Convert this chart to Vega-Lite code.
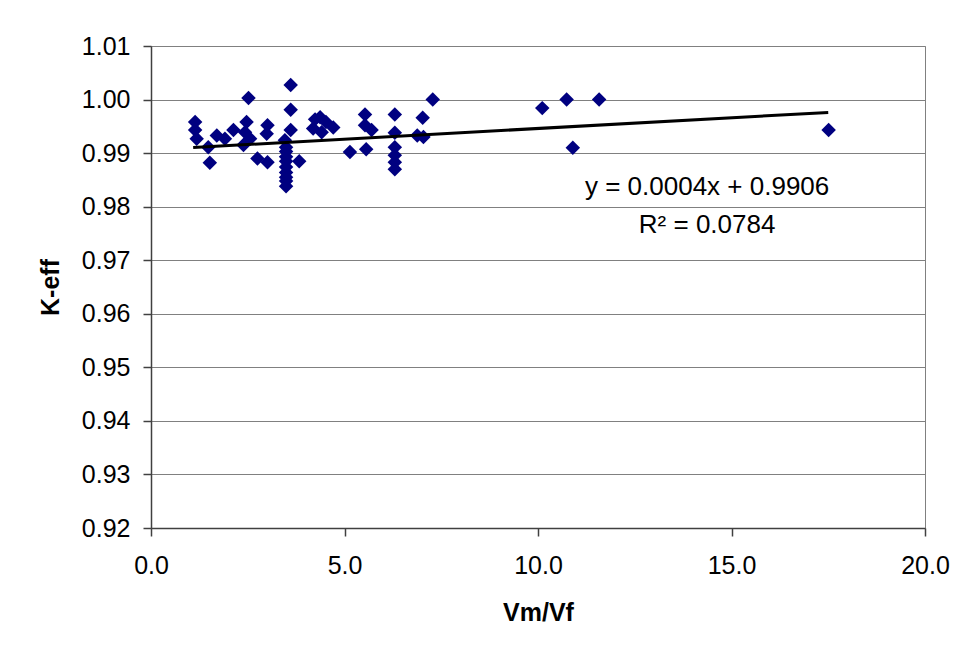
{
  "$schema": "https://vega.github.io/schema/vega-lite/v6.json",
  "width": 774,
  "height": 482,
  "autosize": {"type": "none"},
  "padding": {"left": 151, "top": 46, "right": 38, "bottom": 127},
  "background": "white",
  "config": {
    "font": "Liberation Sans",
    "view": {"stroke": "#808080", "strokeWidth": 1},
    "axis": {
      "labelFont": "Liberation Sans",
      "titleFont": "Liberation Sans",
      "labelFontSize": 25,
      "titleFontSize": 25,
      "titleFontWeight": "bold",
      "labelColor": "black",
      "titleColor": "black",
      "domainColor": "#404040",
      "domainWidth": 1.5,
      "tickColor": "#404040",
      "tickWidth": 1.5,
      "tickSize": 8,
      "labelFlush": false,
      "labelOverlap": false,
      "gridColor": "#808080",
      "gridWidth": 1,
      "gridOpacity": 1
    }
  },
  "datasets": {
    "pts": [
      {"x": 1.14, "y": 0.9958}, {"x": 1.14, "y": 0.9943}, {"x": 1.18, "y": 0.9927},
      {"x": 1.48, "y": 0.9911}, {"x": 1.52, "y": 0.9882}, {"x": 1.70, "y": 0.9933},
      {"x": 1.91, "y": 0.9927}, {"x": 2.13, "y": 0.9943}, {"x": 2.47, "y": 0.9958},
      {"x": 2.43, "y": 0.9939}, {"x": 2.39, "y": 0.9915}, {"x": 2.56, "y": 0.9927},
      {"x": 2.52, "y": 1.0003}, {"x": 2.75, "y": 0.9890}, {"x": 3.01, "y": 0.9883},
      {"x": 3.01, "y": 0.9952}, {"x": 2.99, "y": 0.9936}, {"x": 3.61, "y": 1.0027},
      {"x": 3.61, "y": 0.9981}, {"x": 3.61, "y": 0.9943}, {"x": 3.46, "y": 0.9924},
      {"x": 3.49, "y": 0.9911}, {"x": 3.49, "y": 0.9903}, {"x": 3.49, "y": 0.9893},
      {"x": 3.49, "y": 0.9885}, {"x": 3.49, "y": 0.9874}, {"x": 3.49, "y": 0.9864},
      {"x": 3.49, "y": 0.9855}, {"x": 3.49, "y": 0.9848}, {"x": 3.49, "y": 0.9838},
      {"x": 3.83, "y": 0.9885}, {"x": 4.24, "y": 0.9963}, {"x": 4.37, "y": 0.9967},
      {"x": 4.19, "y": 0.9946}, {"x": 4.41, "y": 0.9939}, {"x": 4.71, "y": 0.9948},
      {"x": 4.52, "y": 0.9958}, {"x": 5.14, "y": 0.9902}, {"x": 5.53, "y": 0.9972},
      {"x": 5.53, "y": 0.9952}, {"x": 5.70, "y": 0.9943}, {"x": 5.56, "y": 0.9907},
      {"x": 6.30, "y": 0.9972}, {"x": 6.30, "y": 0.9938}, {"x": 6.30, "y": 0.9911},
      {"x": 6.30, "y": 0.9896}, {"x": 6.30, "y": 0.9883}, {"x": 6.30, "y": 0.9870},
      {"x": 6.88, "y": 0.9933}, {"x": 7.04, "y": 0.9930}, {"x": 7.02, "y": 0.9966},
      {"x": 7.28, "y": 1.0000}, {"x": 10.11, "y": 0.9984}, {"x": 10.74, "y": 1.0000},
      {"x": 11.58, "y": 1.0000}, {"x": 10.90, "y": 0.9910}, {"x": 17.51, "y": 0.9943}
    ],
    "trend": [
      {"x": 1.09, "y": 0.99104},
      {"x": 17.5, "y": 0.9976}
    ],
    "labels": [
      {"x": 14.37, "y": 0.98212, "text": "y = 0.0004x + 0.9906"},
      {"x": 14.37, "y": 0.97509, "text": "R² = 0.0784"}
    ]
  },
  "layer": [
    {
      "data": {"name": "pts"},
      "mark": {"type": "point", "shape": "diamond", "filled": true, "color": "#000080", "opacity": 1, "size": 210},
      "encoding": {
        "x": {
          "field": "x", "type": "quantitative",
          "scale": {"domain": [0, 20], "nice": false, "zero": false},
          "axis": {
            "title": "Vm/Vf",
            "values": [0, 5, 10, 15, 20],
            "format": ".1f",
            "grid": false,
            "labelPadding": 17,
            "titlePadding": 22
          }
        },
        "y": {
          "field": "y", "type": "quantitative",
          "scale": {"domain": [0.92, 1.01], "nice": false, "zero": false},
          "axis": {
            "title": "K-eff",
            "values": [0.92, 0.93, 0.94, 0.95, 0.96, 0.97, 0.98, 0.99, 1.0, 1.01],
            "format": ".2f",
            "grid": true,
            "labelPadding": 13,
            "titlePadding": 18
          }
        }
      }
    },
    {
      "data": {"name": "trend"},
      "mark": {"type": "line", "color": "black", "strokeWidth": 3},
      "encoding": {
        "x": {"field": "x", "type": "quantitative"},
        "y": {"field": "y", "type": "quantitative"}
      }
    },
    {
      "data": {"name": "labels"},
      "mark": {"type": "text", "font": "Liberation Sans", "fontSize": 26, "align": "center", "baseline": "alphabetic", "color": "black"},
      "encoding": {
        "x": {"field": "x", "type": "quantitative"},
        "y": {"field": "y", "type": "quantitative"},
        "text": {"field": "text"}
      }
    }
  ]
}
